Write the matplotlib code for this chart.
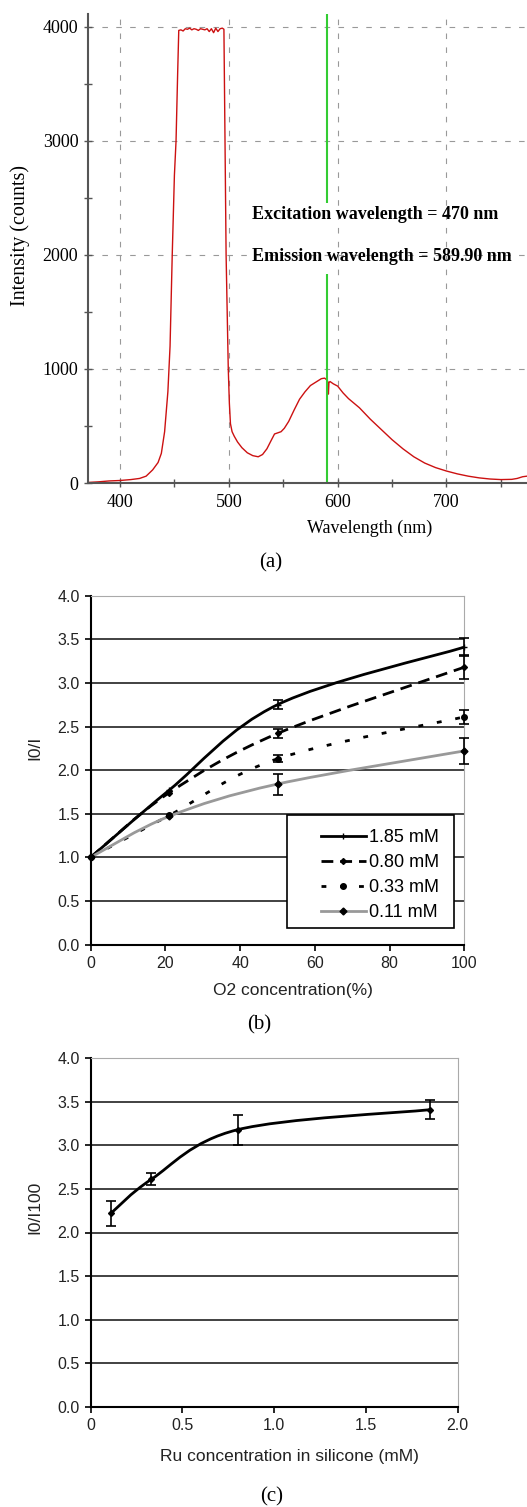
import numpy as np
import matplotlib
matplotlib.use("Agg")
import matplotlib.pyplot as plt
from matplotlib.path import Path
from matplotlib.patches import PathPatch, Rectangle
from matplotlib.lines import Line2D

plt.rcParams['lines.scale_dashes'] = False

# ---- panel (a): emission spectrum ----
wavelength = [371, 380, 390, 400, 410, 418, 424, 430, 435, 438, 441, 444, 446, 448, 450,
              451.5, 453, 454, 456, 458, 460, 462, 464, 466, 468, 470, 472, 474, 476, 478,
              480, 482, 484, 486, 488, 490, 492, 494, 495.5, 496.5, 497.5, 498.5, 499.5,
              500.5, 501.5, 503, 505, 508, 512, 517, 522, 527, 531, 535, 539, 542, 545,
              548, 551, 555, 560, 565, 570, 575, 580, 585, 588, 590, 591, 591.5, 592, 593,
              596, 600, 605, 610, 620, 630, 640, 650, 660, 670, 680, 690, 700, 710, 720,
              730, 740, 750, 760, 765, 770, 774]
intensity = [5, 10, 18, 22, 30, 40, 60, 115, 180, 260, 450, 800, 1200, 2000, 2700,
             3000, 3600, 3970, 3975, 3965, 3985, 3980, 3990, 3975, 3985, 3980, 3970, 3985,
             3980, 3975, 3985, 3960, 3985, 3950, 3990, 3960, 3985, 3990, 3980, 3000, 2000,
             1500, 1000, 700, 520, 450, 410, 360, 310, 265, 240, 230, 250, 300, 375, 430,
             440, 450, 480, 540, 640, 735, 800, 855, 885, 915, 920, 905, 890, 780, 880,
             890, 870, 850, 790, 740, 660, 560, 470, 380, 300, 230, 175, 135, 105, 80, 60,
             45, 35, 30, 32, 40, 55, 60]
excitation_nm = 470
emission_nm = 589.90

# ---- panel (b): I0/I vs O2 ----
o2 = [0, 21, 50, 100]
series_b = {
    '1.85 mM': ([1.0, 1.77, 2.75, 3.41], [0, 0, 0.05, 0.10]),
    '0.80 mM': ([1.0, 1.74, 2.42, 3.18], [0, 0, 0.05, 0.14]),
    '0.33 mM': ([1.0, 1.48, 2.13, 2.61], [0, 0, 0.04, 0.08]),
    '0.11 mM': ([1.0, 1.47, 1.84, 2.22], [0, 0, 0.12, 0.15]),
}

# ---- panel (c): I0/I100 vs Ru concentration ----
ru_conc = [0.11, 0.33, 0.80, 1.85]
ratio_100 = [2.22, 2.61, 3.18, 3.41]
ratio_err = [0.14, 0.07, 0.17, 0.11]

W, H = 527, 1507
fig = plt.figure(figsize=(W / 100, H / 100), dpi=100)


def box(l, t, r, b):
    return [l / W, 1 - b / H, (r - l) / W, (b - t) / H]


def ftext(x, y, s, **kw):
    fig.text(x / W, 1 - y / H, s, ha='center', va='center', **kw)


def smooth_path(xs, ys):
    """Excel-like smoothed line through the points (cubic Bezier)"""
    pts = list(zip(xs, ys))
    n = len(pts)
    verts = [pts[0]]
    codes = [Path.MOVETO]
    for i in range(n - 1):
        p0 = pts[i - 1] if i > 0 else pts[i]
        p1, p2 = pts[i], pts[i + 1]
        p3 = pts[i + 2] if i + 2 < n else pts[i + 1]
        c1 = (p1[0] + (p2[0] - p0[0]) / 6, p1[1] + (p2[1] - p0[1]) / 6)
        c2 = (p2[0] - (p3[0] - p1[0]) / 6, p2[1] - (p3[1] - p1[1]) / 6)
        verts += [c1, c2, p2]
        codes += [Path.CURVE4] * 3
    return Path(verts, codes)


serif = 'Liberation Serif'
sans = 'Liberation Sans'

# ================= (a) =================
ax = fig.add_axes(box(88, 14, 527, 483))
ax.plot(wavelength, intensity, color='#cc1111', lw=1.0)
ax.vlines(emission_nm, 0, 1830, color='#33cc33', lw=1.5)
ax.vlines(emission_nm, 2460, 4114, color='#33cc33', lw=1.5)
ax.set_xlim(370.6, 774)
ax.set_ylim(0, 4114)
ax.set_xticks([400, 500, 600, 700])
ax.set_xticks([450, 550, 650, 750], minor=True)
ax.set_yticks([0, 1000, 2000, 3000, 4000])
ax.set_yticks([500, 1500, 2500, 3500], minor=True)
ax.grid(True, which='major', color='#999999', lw=0.8, ls=(0, (4, 6)))
ax.grid(False, which='minor')
ax.get_ygridlines()[0].set_visible(False)
for s in ['top', 'right']:
    ax.spines[s].set_visible(False)
for s in ['left', 'bottom']:
    ax.spines[s].set_color('#555555')
    ax.spines[s].set_linewidth(1.5)
ax.tick_params(which='both', direction='inout', length=6, width=1, color='#555555')
ax.tick_params(axis='y', pad=4)
ax.tick_params(axis='x', pad=5)
for lab in ax.get_xticklabels() + ax.get_yticklabels():
    lab.set_fontfamily(serif)
    lab.set_fontsize(13)
ax.text(521, 2351, 'Excitation wavelength = %d nm' % excitation_nm, family=serif,
        weight='bold', fontsize=13, va='center', ha='left')
ax.text(521, 1991, 'Emission wavelength = %.2f nm' % emission_nm, family=serif,
        weight='bold', fontsize=13, va='center', ha='left', clip_on=False)
ftext(20, 235, 'Intensity (counts)', rotation=90, family=serif, fontsize=14.5)
ftext(370, 528, 'Wavelength (nm)', family=serif, fontsize=13)
ftext(271, 563, '(a)', family=serif, fontsize=15)


# ================= (b) and (c) common styling =================
def excel_axes(ax):
    ax.set_ylim(0, 4.0)
    ax.set_yticks(np.arange(0, 4.01, 0.5))
    ax.set_yticklabels(['%.1f' % v for v in np.arange(0, 4.01, 0.5)])
    ax.grid(True, axis='y', color='#333333', lw=1.3)
    gl = ax.get_ygridlines()
    gl[0].set_visible(False)
    gl[-1].set_visible(False)
    ax.spines['top'].set_color('#aaaaaa')
    ax.spines['right'].set_color('#aaaaaa')
    ax.spines['left'].set_linewidth(1.5)
    ax.spines['bottom'].set_linewidth(1.5)
    ax.tick_params(direction='out', length=4, width=1.2, pad=4)
    for lab in ax.get_xticklabels() + ax.get_yticklabels():
        lab.set_fontfamily(sans)
        lab.set_fontsize(11.5)
        lab.set_color('#222222')
    ax.set_axisbelow(True)


styles = {
    '1.85 mM': dict(color='black', lw=2.0, ls='-', marker='+', ms=5),
    '0.80 mM': dict(color='black', lw=2.0, ls=(0, (8.5, 5)), marker='D', ms=3),
    '0.33 mM': dict(color='black', lw=2.0, ls=(0, (3.5, 10)), marker='o', ms=4),
    '0.11 mM': dict(color='#999999', lw=2.0, ls='-', marker='D', ms=3.5),
}

ax = fig.add_axes(box(90.7, 595.7, 464.3, 944.5))
ax.set_xlim(0, 100)
ax.set_xticks([0, 20, 40, 60, 80, 100])
handles = []
for name, (vals, errs) in series_b.items():
    st = styles[name]
    ax.add_patch(PathPatch(smooth_path(o2, vals), fill=False, edgecolor=st['color'],
                           lw=st['lw'], ls=st['ls'], zorder=3))
    ax.plot(o2, vals, ls='none', marker=st['marker'], ms=st['ms'], color='black',
            mew=1, zorder=4, clip_on=False)
    m = np.array(errs) > 0
    ax.errorbar(np.array(o2)[m], np.array(vals)[m], yerr=np.array(errs)[m], fmt='none',
                ecolor='black', elinewidth=1.2, capsize=3.5, capthick=1.2, zorder=4,
                clip_on=False)
    handles.append(Line2D([], [], color=st['color'], lw=st['lw'], ls=st['ls'],
                          marker=st['marker'], ms=st['ms'], mfc='black', mec='black',
                          label=name))
excel_axes(ax)
ax.add_patch(Rectangle(((287 - 90.7) / 373.6, (944.5 - 927.7) / 348.8),
                       (454 - 287) / 373.6, (927.7 - 815) / 348.8,
                       transform=ax.transAxes, facecolor='white', edgecolor='black',
                       lw=1.2, zorder=5))
leg = ax.legend(handles=handles, loc='upper left', frameon=False, borderpad=0,
                bbox_to_anchor=((311.7 - 90.7) / 373.6, (944.5 - 820) / 348.8),
                prop={'family': sans, 'size': 13}, handlelength=2.5,
                handletextpad=0.15, labelspacing=0.45)
leg.set_zorder(6)
ftext(35, 748, 'I0/I', rotation=90, family=sans, fontsize=12.5, color='#222222')
ftext(293, 990, 'O2 concentration(%)', family=sans, fontsize=12.5, color='#222222')
ftext(259, 1025, '(b)', family=serif, fontsize=15)

# ================= (c) =================
ax = fig.add_axes(box(90.7, 1058.3, 457.7, 1406.7))
ax.set_xlim(0, 2.0)
ax.set_xticks([0, 0.5, 1.0, 1.5, 2.0])
ax.set_xticklabels(['0', '0.5', '1.0', '1.5', '2.0'])
ax.add_patch(PathPatch(smooth_path(ru_conc, ratio_100), fill=False, edgecolor='black',
                       lw=2.0, zorder=3))
ax.plot(ru_conc, ratio_100, ls='none', marker='D', ms=3, color='black', zorder=4)
ax.errorbar(ru_conc, ratio_100, yerr=ratio_err, fmt='none', ecolor='black',
            elinewidth=1.2, capsize=3.5, capthick=1.2, zorder=4)
excel_axes(ax)
ftext(35, 1207, 'I0/I100', rotation=90, family=sans, fontsize=12.5, color='#222222')
ftext(289, 1456, 'Ru concentration in silicone (mM)', family=sans, fontsize=12.5,
      color='#222222')
ftext(272, 1497, '(c)', family=serif, fontsize=15)

fig.savefig('out.png', dpi=100)
